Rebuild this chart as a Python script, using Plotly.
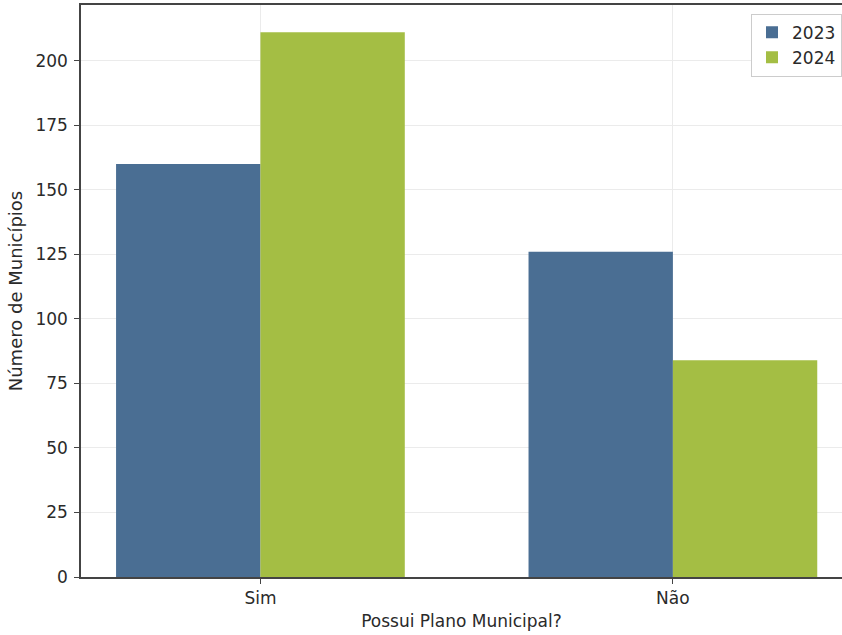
import plotly.graph_objects as go

categories = ["Sim", "Não"]
years = ["2023", "2024"]
values_2023 = [160, 126]
values_2024 = [211, 84]
colors = {"2023": "#4a6e93", "2024": "#a4be44"}
y_ticks = [0, 25, 50, 75, 100, 125, 150, 175, 200]

fig = go.Figure()
for yr, vals in zip(years, [values_2023, values_2024]):
    fig.add_trace(go.Bar(x=categories, y=vals, name=yr, marker=dict(color=colors[yr], line=dict(width=0))))

txt = "#2a2a2a"
fig.update_layout(
    width=842, height=635,
    margin=dict(l=81, r=0, t=5, b=58),
    paper_bgcolor="white", plot_bgcolor="white",
    barmode="group", bargap=0.3, bargroupgap=0,
    font=dict(family="DejaVu Sans", size=17, color=txt),
    legend=dict(x=1, xanchor="right", y=0.985, yanchor="top",
                bordercolor="#cccccc", borderwidth=1, bgcolor="white",
                font=dict(family="DejaVu Sans", size=17, color=txt)),
    xaxis=dict(range=[-0.435, 1.41], showline=True, linecolor="#444444", linewidth=1.5,
               mirror=True, ticks="outside", ticklen=5, tickcolor="#444444",
               showgrid=True, gridcolor="#ebebeb",
               tickfont=dict(size=17),
               title=dict(text="Possui Plano Municipal?", standoff=8,
                          font=dict(family="DejaVu Sans", size=17, color=txt))),
    yaxis=dict(range=[0, 211 * 1.05], showline=True, linecolor="#444444", linewidth=1.5,
               ticks="outside", ticklen=5, tickcolor="#444444", tickvals=y_ticks,
               showgrid=True, gridcolor="#ebebeb", zeroline=False,
               tickfont=dict(size=17), ticklabelstandoff=3,
               title=dict(text="Número de Municípios", standoff=8,
                          font=dict(family="DejaVu Sans", size=18, color=txt))),
)
fig.write_html("out.html", config={"displayModeBar": False},
               post_script="document.body.style.margin='0';")
